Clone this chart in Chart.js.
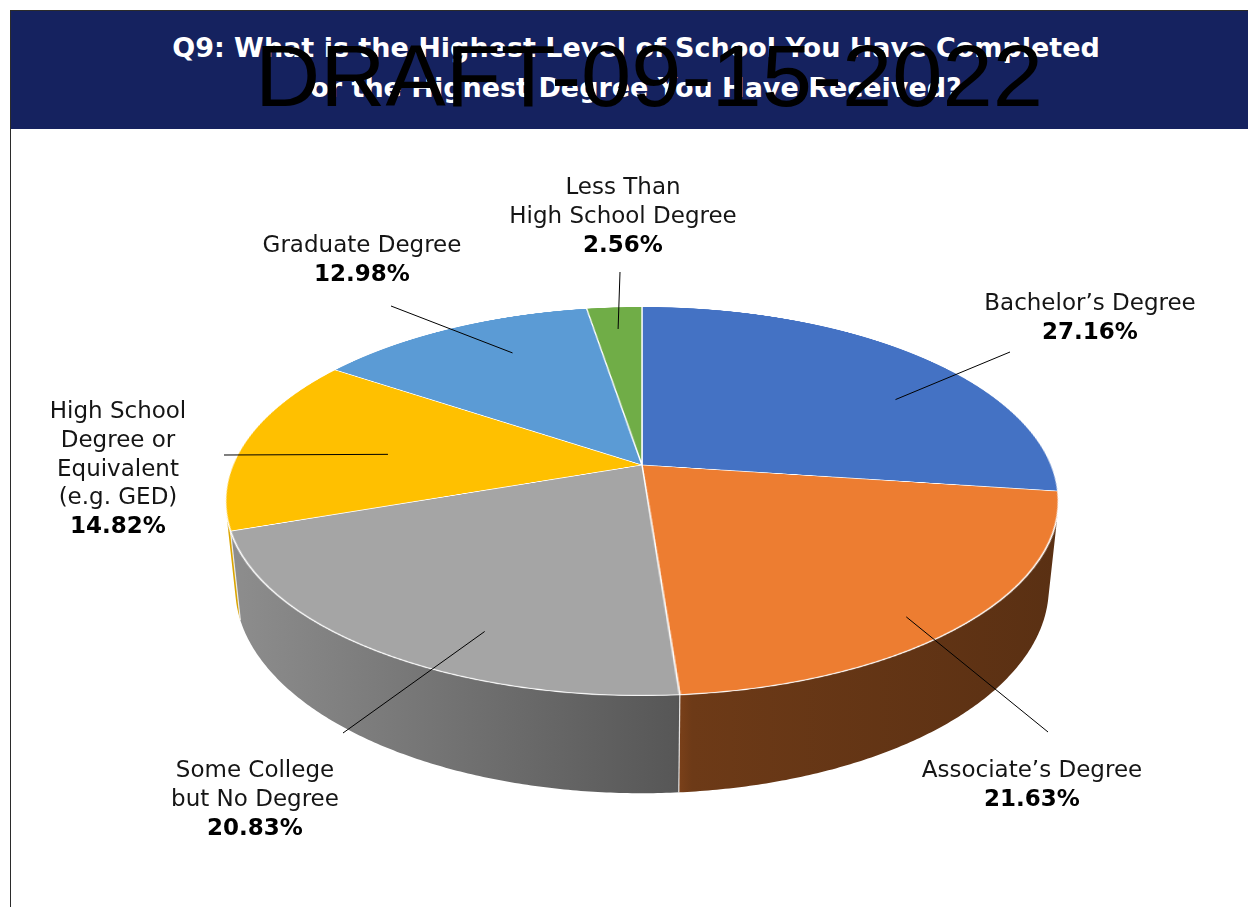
<!DOCTYPE html>
<html>
<head>
<meta charset="utf-8">
<title>Q9: Highest Level of School Completed</title>
<script src="https://cdn.jsdelivr.net/npm/chart.js@4.4.1/dist/chart.umd.min.js"></script>
<style>
  html, body { margin: 0; padding: 0; background: #ffffff; }
  #page { position: relative; width: 1248px; height: 907px; overflow: hidden; background: #ffffff; }
  #frame { position: absolute; left: 10px; top: 10px; width: 1250px; height: 910px;
           border-left: 1px solid #2b2b2b; border-top: 1px solid #2b2b2b; }
  #header { position: absolute; left: 11px; top: 11px; width: 1237px; height: 118px;
            background: #15225f; z-index: 10; }
  #title { position: absolute; left: 636px; top: 28px; transform: translateX(-50%);
           white-space: nowrap; text-align: center; color: #ffffff;
           font: bold 27px/40px "DejaVu Sans", sans-serif; z-index: 11; }
  #stamp { position: absolute; left: 255px; top: 32px; white-space: nowrap; color: #000000;
           transform: scaleX(1.026); transform-origin: 0 0;
           font: 88px/88px "Liberation Sans", Arial, sans-serif; z-index: 12; }
  canvas { position: absolute; }
  #side { left: 0; top: 0; z-index: 1; }
  #pie { left: 232px; top: 55px; z-index: 2; transform-origin: 50% 50%; }
  #ink { left: 0; top: 0; z-index: 3; }
  .lbl { position: absolute; z-index: 4; transform: translateX(-50%); text-align: center;
         white-space: nowrap; color: #151515; font: 23px/28.8px "DejaVu Sans", sans-serif; }
  .lbl b { color: #000000; font-weight: bold; }
</style>
</head>
<body>
<div id="page">
  <div id="frame"></div>
  <canvas id="side" width="1248" height="907"></canvas>
  <canvas id="pie" width="820" height="820"></canvas>
  <canvas id="ink" width="1248" height="907"></canvas>
  <div id="header"></div>
  <div id="title">Q9: What is the Highest Level of School You Have Completed<br>or the Highest Degree You Have Received?</div>
  <div id="stamp">DRAFT-09-15-2022</div>
</div>
<script>
// Survey answers (share of respondents, %), clockwise from 12 o'clock
const categories = [
  ['Bachelor’s Degree'],
  ['Associate’s Degree'],
  ['Some College', 'but No Degree'],
  ['High School', 'Degree or', 'Equivalent', '(e.g. GED)'],
  ['Graduate Degree'],
  ['Less Than', 'High School Degree']
];
const shares = [27.16, 21.63, 20.83, 14.82, 12.98, 2.56];
const sliceColors = ['#4472c4', '#ed7d31', '#a5a5a5', '#ffc000', '#5b9bd5', '#70ad47'];

// Label placement: text block centre (cx, first-line cy), leader tip, and the
// leader anchor inside the slice (t = fraction across the slice, f = fraction of radius)
const labelLayout = [
  { cx: 1090, cy: 302, tip: [1010, 352], t: 0.62, f: 0.76 },
  { cx: 1032, cy: 769, tip: [1048, 732], t: 0.56, f: 0.90 },
  { cx: 255,  cy: 769, tip: [343, 733],  t: 0.37, f: 0.83 },
  { cx: 118,  cy: 410, tip: [224, 455],  t: 0.46, f: 0.63 },
  { cx: 362,  cy: 244, tip: [391, 306],  t: 0.60, f: 0.76 },
  { cx: 623,  cy: 186, tip: [620, 272],  t: 0.50, f: 0.84 }
];

// Camera for the tilted disc: screen origin of the pie centre, tilt, viewing distance, thickness
const VIEW = { originX: 642, originY: 465, tilt: 62.7, dist: 1958, depth: 98 };
// Side-wall shading across the wall, left to right (brightness multipliers)
const wallShade = [[0, 0.86], [0.54, 0.53], [0.56, 0.46], [1, 0.38]];

const pieCanvas = document.getElementById('pie');
const sideCanvas = document.getElementById('side');
const inkCanvas = document.getElementById('ink');
pieCanvas.style.transform = 'perspective(' + VIEW.dist + 'px) rotateX(' + VIEW.tilt + 'deg)';

const tiltRad = VIEW.tilt * Math.PI / 180;
function project(x, y, z) {
  const yr = y * Math.cos(tiltRad) - z * Math.sin(tiltRad);
  const zr = y * Math.sin(tiltRad) + z * Math.cos(tiltRad);
  const s = VIEW.dist / (VIEW.dist - zr);
  return [VIEW.originX + x * s, VIEW.originY + yr * s];
}

function hexToRgb(hex) {
  const n = parseInt(hex.slice(1), 16);
  return [(n >> 16) & 255, (n >> 8) & 255, n & 255];
}
function shadeRgb(hex, k) {
  const c = hexToRgb(hex).map(v => Math.round(v * k));
  return 'rgb(' + c.join(',') + ')';
}

// Draws the cylinder wall under the disc, then the leader lines above it
const rimPlugin = {
  id: 'rim',
  afterDraw(chart) {
    const meta = chart.getDatasetMeta(0);
    const halfW = chart.width / 2, halfH = chart.height / 2;
    const sctx = sideCanvas.getContext('2d');
    sctx.clearRect(0, 0, sideCanvas.width, sideCanvas.height);
    const ictx = inkCanvas.getContext('2d');
    ictx.clearRect(0, 0, inkCanvas.width, inkCanvas.height);
    if (!meta.data.length) return;

    const r0 = meta.data[0].outerRadius;
    const c = r0 / (VIEW.dist * Math.sin(tiltRad));
    const lo = Math.asin(Math.min(1, c));
    const hi = Math.PI - lo;

    const rimPoint = (arc, a, z, f) => {
      const rr = arc.outerRadius * (f === undefined ? 1 : f);
      return project(arc.x - halfW + rr * Math.cos(a), arc.y - halfH + rr * Math.sin(a), z);
    };

    const firstArc = meta.data[0];
    const xL = rimPoint(firstArc, hi, 0)[0];
    const xR = rimPoint(firstArc, lo, 0)[0];
    const step = Math.PI / 360;
    const seams = [];

    meta.data.forEach((arc, i) => {
      const a0 = Math.max(arc.startAngle, lo);
      const a1 = Math.min(arc.endAngle, hi);
      if (a1 <= a0) return;
      sctx.beginPath();
      let p = rimPoint(arc, a0, 0);
      sctx.moveTo(p[0], p[1]);
      for (let a = a0; a < a1; a += step) { p = rimPoint(arc, a, 0); sctx.lineTo(p[0], p[1]); }
      p = rimPoint(arc, a1, 0); sctx.lineTo(p[0], p[1]);
      for (let a = a1; a > a0; a -= step) { p = rimPoint(arc, a, -VIEW.depth); sctx.lineTo(p[0], p[1]); }
      p = rimPoint(arc, a0, -VIEW.depth); sctx.lineTo(p[0], p[1]);
      sctx.closePath();
      const g = sctx.createLinearGradient(xL, 0, xR, 0);
      wallShade.forEach(([pos, k]) => g.addColorStop(pos, shadeRgb(sliceColors[i], k)));
      sctx.fillStyle = g;
      sctx.fill();
      if (arc.startAngle > lo && arc.startAngle < hi) seams.push([arc, arc.startAngle]);
    });

    sctx.strokeStyle = 'rgba(240,240,240,0.9)';
    sctx.lineWidth = 1.2;
    seams.forEach(([arc, a]) => {
      const top = rimPoint(arc, a, 0), bot = rimPoint(arc, a, -VIEW.depth);
      sctx.beginPath(); sctx.moveTo(top[0], top[1]); sctx.lineTo(bot[0], bot[1]); sctx.stroke();
    });

    ictx.strokeStyle = '#000000';
    ictx.lineWidth = 1;
    meta.data.forEach((arc, i) => {
      const L = labelLayout[i];
      const a = arc.startAngle + L.t * (arc.endAngle - arc.startAngle);
      const s = rimPoint(arc, a, 0, L.f);
      ictx.beginPath(); ictx.moveTo(s[0], s[1]); ictx.lineTo(L.tip[0], L.tip[1]); ictx.stroke();
    });
  }
};

new Chart(pieCanvas, {
  type: 'pie',
  data: {
    labels: categories,
    datasets: [{
      data: shares,
      backgroundColor: sliceColors,
      borderColor: '#ffffff',
      borderWidth: 1.5,
      hoverOffset: 0
    }]
  },
  options: {
    responsive: false,
    animation: false,
    devicePixelRatio: 2,
    events: [],
    layout: { padding: 0 },
    plugins: { legend: { display: false }, tooltip: { enabled: false } }
  },
  plugins: [rimPlugin]
});

// Category and value labels
const page = document.getElementById('page');
categories.forEach((lines, i) => {
  const L = labelLayout[i];
  const div = document.createElement('div');
  div.className = 'lbl';
  div.style.left = L.cx + 'px';
  div.style.top = (L.cy - 14) + 'px';
  lines.forEach(line => {
    div.appendChild(document.createTextNode(line));
    div.appendChild(document.createElement('br'));
  });
  const b = document.createElement('b');
  b.textContent = shares[i].toFixed(2) + '%';
  div.appendChild(b);
  page.appendChild(div);
});
</script>
</body>
</html>
